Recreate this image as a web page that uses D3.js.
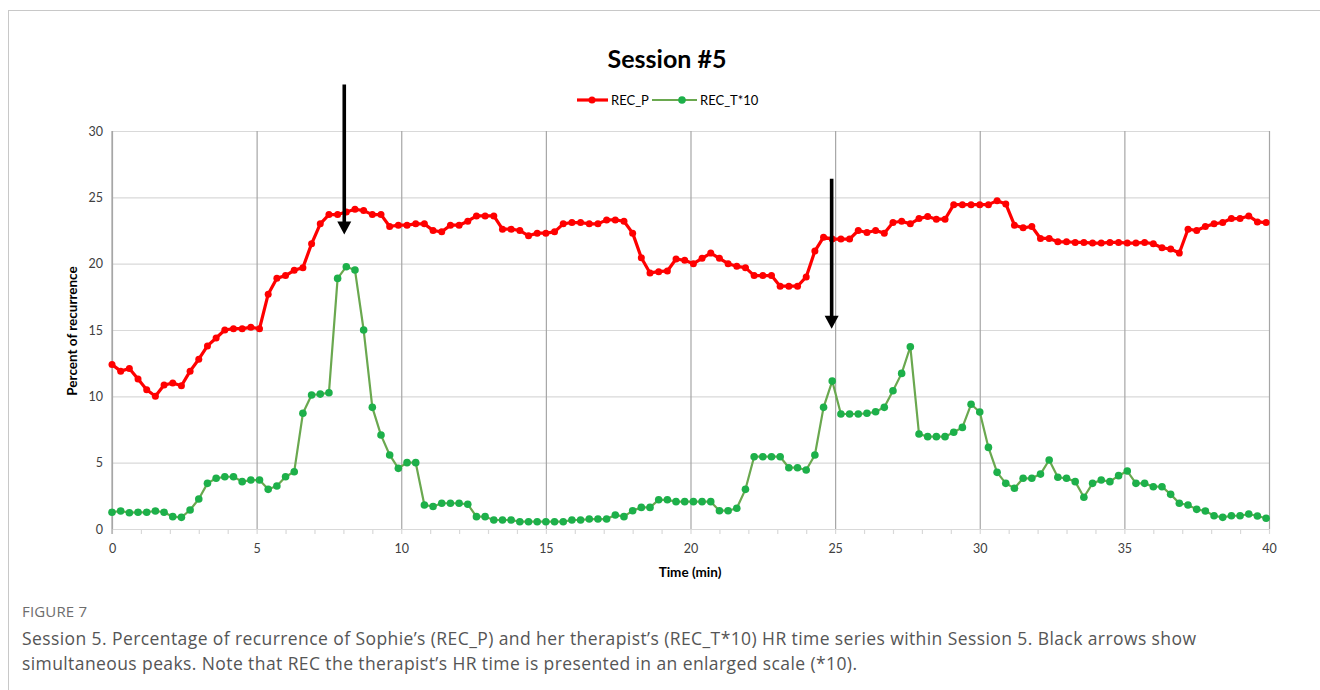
<!DOCTYPE html>
<html>
<head>
<meta charset="utf-8">
<script src="https://cdn.jsdelivr.net/npm/d3@7"></script>
<style>
  body { margin: 0; background: #fff; }
  svg { display: block; }
</style>
</head>
<body>
<svg id="chart" width="1320" height="690"></svg>
<script>
// Sampling interval of the recurrence series (minutes)
const timeStep = 0.3;

// Percent of recurrence, patient (REC_P)
const recP = [
  12.4, 11.9, 12.1, 11.3, 10.5, 10.0, 10.85, 11.0, 10.8, 11.9,
  12.8, 13.8, 14.4, 15.0, 15.1, 15.1, 15.2, 15.1, 17.7, 18.9,
  19.1, 19.5, 19.7, 21.5, 23.0, 23.7, 23.7, 23.9, 24.1, 24.0,
  23.7, 23.7, 22.8, 22.9, 22.9, 23.0, 23.0, 22.5, 22.4, 22.9,
  22.9, 23.2, 23.6, 23.6, 23.6, 22.6, 22.6, 22.5, 22.1, 22.3,
  22.3, 22.4, 23.0, 23.1, 23.1, 23.0, 23.0, 23.3, 23.3, 23.2,
  22.3, 20.45, 19.3, 19.4, 19.45, 20.35, 20.25, 20.0, 20.4, 20.8,
  20.4, 20.0, 19.8, 19.7, 19.1, 19.1, 19.1, 18.3, 18.3, 18.3,
  19.0, 20.95, 22.0, 21.85, 21.85, 21.85, 22.5, 22.35, 22.5, 22.3,
  23.1, 23.2, 23.0, 23.4, 23.55, 23.35, 23.35, 24.45, 24.45, 24.45,
  24.45, 24.45, 24.75, 24.5, 22.9, 22.7, 22.8, 21.9, 21.9, 21.65,
  21.65, 21.6, 21.6, 21.55, 21.55, 21.6, 21.6, 21.55, 21.55, 21.6,
  21.5, 21.2, 21.1, 20.8, 22.6, 22.5, 22.8, 23.0, 23.1, 23.4,
  23.4, 23.6, 23.15, 23.1
];

// Percent of recurrence, therapist, multiplied by 10 (REC_T*10)
const recT10 = [
  1.26, 1.36, 1.23, 1.26, 1.26, 1.36, 1.26, 0.93, 0.88, 1.43,
  2.26, 3.44, 3.82, 3.94, 3.94, 3.57, 3.69, 3.69, 2.99, 3.24,
  3.94, 4.32, 8.72, 10.1, 10.17, 10.27, 18.89, 19.77, 19.52, 15.0,
  9.17, 7.08, 5.58, 4.57, 5.0, 5.0, 1.81, 1.7, 1.94, 1.94,
  1.94, 1.86, 0.93, 0.93, 0.68, 0.68, 0.68, 0.55, 0.55, 0.55,
  0.55, 0.55, 0.55, 0.68, 0.68, 0.75, 0.75, 0.75, 1.06, 0.93,
  1.38, 1.63, 1.63, 2.2, 2.2, 2.06, 2.06, 2.06, 2.06, 2.06,
  1.38, 1.38, 1.56, 2.99, 5.45, 5.45, 5.45, 5.45, 4.62, 4.62,
  4.45, 5.58, 9.17, 11.15, 8.67, 8.67, 8.67, 8.72, 8.84, 9.17,
  10.42, 11.73, 13.74, 7.16, 6.96, 6.96, 6.96, 7.29, 7.66, 9.4,
  8.82, 6.15, 4.27, 3.44, 3.07, 3.82, 3.82, 4.14, 5.2, 3.9,
  3.82, 3.57, 2.39, 3.44, 3.69, 3.57, 4.02, 4.37, 3.44, 3.44,
  3.19, 3.19, 2.61, 1.94, 1.81, 1.48, 1.36, 1.0, 0.88, 1.0,
  1.0, 1.13, 0.98, 0.81
];

const seriesNames = ["REC_P", "REC_T*10"];
const xTicks = [0, 5, 10, 15, 20, 25, 30, 35, 40];
const xMinorTicks = d3.range(0, 41, 1);
const yTicks = [0, 5, 10, 15, 20, 25, 30];

// Arrows marking simultaneous peaks: time (min), top and tip (percent units)
const arrowTime = [8.03, 24.88];
const arrowTop = [33.5, 26.4];
const arrowTip = [22.2, 15.1];

const times = recP.map((_, i) => i * timeStep);

const svg = d3.select("#chart");
const font = "Lato, 'Open Sans', sans-serif";

// Outer frame
svg.append("rect")
  .attr("x", 8.5).attr("y", 10.5)
  .attr("width", 1400).attr("height", 800)
  .attr("fill", "none").attr("stroke", "#c8c8c8").attr("stroke-width", 1);

const plot = { left: 112, right: 1269, top: 131, bottom: 529 };
const x = d3.scaleLinear().domain([0, 40]).range([plot.left, plot.right]);
const y = d3.scaleLinear().domain([0, 30]).range([plot.bottom, plot.top]);

// Horizontal gridlines
const yGrid = svg.append("g")
  .attr("transform", `translate(${plot.left},0)`)
  .call(d3.axisLeft(y).tickValues(yTicks).tickSize(-(plot.right - plot.left)).tickFormat(""));
yGrid.select(".domain").remove();
yGrid.selectAll(".tick line").attr("stroke", "#d9d9d9").attr("stroke-width", 1.2);

// Vertical gridlines every 5 minutes
const xGrid = svg.append("g")
  .attr("transform", `translate(0,${plot.bottom})`)
  .call(d3.axisBottom(x).tickValues(xTicks).tickSize(-(plot.bottom - plot.top)).tickFormat(""));
xGrid.select(".domain").remove();
xGrid.selectAll(".tick line").attr("stroke", "#a6a6a6").attr("stroke-width", 1.2);

// Bottom axis with minor ticks each minute
const xMinor = svg.append("g")
  .attr("transform", `translate(0,${plot.bottom})`)
  .call(d3.axisBottom(x).tickValues(xMinorTicks).tickSize(5).tickSizeOuter(0).tickFormat(""));
xMinor.select(".domain").attr("stroke", "#d9d9d9").attr("stroke-width", 1.2);
xMinor.selectAll(".tick line").attr("stroke", "#d9d9d9").attr("stroke-width", 1.2);

// Left axis line
svg.append("line")
  .attr("x1", x(0)).attr("x2", x(0))
  .attr("y1", y(30)).attr("y2", y(0) + 5)
  .attr("stroke", "#a6a6a6").attr("stroke-width", 1.2);

// Tick labels
const yLab = svg.append("g")
  .attr("transform", `translate(${plot.left},0)`)
  .call(d3.axisLeft(y).tickValues(yTicks).tickSize(0).tickPadding(9));
yLab.select(".domain").remove();
yLab.selectAll("text").attr("font-family", font).attr("font-size", 12.5).attr("fill", "#404040");

const xLab = svg.append("g")
  .attr("transform", `translate(0,${plot.bottom})`)
  .call(d3.axisBottom(x).tickValues(xTicks).tickSize(0).tickPadding(15));
xLab.select(".domain").remove();
xLab.selectAll("text").attr("font-family", font).attr("font-size", 12.5).attr("fill", "#404040");

// Series
const colors = { p: "#ff0000", tLine: "#6aa84f", tDot: "#1db04a" };
const line = d3.line().x((d, i) => x(times[i])).y(d => y(d));

svg.append("path").datum(recT10)
  .attr("d", line).attr("fill", "none")
  .attr("stroke", colors.tLine).attr("stroke-width", 2.2).attr("stroke-linejoin", "round");
svg.append("g").selectAll("circle").data(recT10).join("circle")
  .attr("cx", (d, i) => x(times[i])).attr("cy", d => y(d))
  .attr("r", 3.8).attr("fill", colors.tDot);

svg.append("path").datum(recP)
  .attr("d", line).attr("fill", "none")
  .attr("stroke", colors.p).attr("stroke-width", 3.2).attr("stroke-linejoin", "round");
svg.append("g").selectAll("circle").data(recP).join("circle")
  .attr("cx", (d, i) => x(times[i])).attr("cy", d => y(d))
  .attr("r", 3.5).attr("fill", colors.p);

// Arrows
arrowTime.forEach((t, k) => {
  const ax = x(t);
  const yTop = y(arrowTop[k]);
  const yTip = y(arrowTip[k]);
  const headLen = 13, headHalf = 7;
  svg.append("line")
    .attr("x1", ax).attr("x2", ax)
    .attr("y1", yTop).attr("y2", yTip - headLen + 1)
    .attr("stroke", "#000").attr("stroke-width", 3.6);
  svg.append("path")
    .attr("d", `M${ax - headHalf},${yTip - headLen} L${ax + headHalf},${yTip - headLen} L${ax},${yTip} Z`)
    .attr("fill", "#000");
});

// Title
svg.append("text")
  .attr("x", 667).attr("y", 68)
  .attr("text-anchor", "middle")
  .attr("font-family", font).attr("font-weight", "bold").attr("font-size", 25)
  .attr("fill", "#000")
  .text("Session #5");

// Legend
const legend = [
  { name: seriesNames[0], x0: 577, x1: 608, dot: 592, tx: 611, line: colors.p, fill: colors.p, w: 3.2, r: 3.5 },
  { name: seriesNames[1], x0: 652, x1: 697, dot: 682, tx: 700, line: colors.tLine, fill: colors.tDot, w: 2.2, r: 3.8 }
];
legend.forEach(l => {
  svg.append("line").attr("x1", l.x0).attr("x2", l.x1).attr("y1", 100).attr("y2", 100)
    .attr("stroke", l.line).attr("stroke-width", l.w);
  svg.append("circle").attr("cx", l.dot).attr("cy", 100).attr("r", l.r).attr("fill", l.fill);
  svg.append("text").attr("x", l.tx).attr("y", 104.5)
    .attr("font-family", font).attr("font-size", 13).attr("fill", "#000")
    .text(l.name);
});

// Axis titles
svg.append("text")
  .attr("x", 690).attr("y", 577)
  .attr("text-anchor", "middle")
  .attr("font-family", font).attr("font-weight", "bold").attr("font-size", 13.5)
  .text("Time (min)");
svg.append("text")
  .attr("transform", "translate(77,331) rotate(-90)")
  .attr("text-anchor", "middle")
  .attr("font-family", font).attr("font-weight", "bold").attr("font-size", 13.5)
  .text("Percent of recurrence");

// Caption
const capFont = "'Open Sans', 'Noto Sans', sans-serif";
svg.append("text")
  .attr("x", 22).attr("y", 617)
  .attr("font-family", capFont).attr("font-size", 15).attr("fill", "#6d6d6d")
  .attr("textLength", 65).attr("lengthAdjust", "spacing")
  .text("FIGURE 7");
svg.append("text")
  .attr("x", 22).attr("y", 645)
  .attr("font-family", capFont).attr("font-size", 17.5).attr("fill", "#555")
  .attr("textLength", 1174).attr("lengthAdjust", "spacing")
  .text("Session 5. Percentage of recurrence of Sophie’s (REC_P) and her therapist’s (REC_T*10) HR time series within Session 5. Black arrows show");
svg.append("text")
  .attr("x", 22).attr("y", 670)
  .attr("font-family", capFont).attr("font-size", 17.5).attr("fill", "#555")
  .attr("textLength", 835).attr("lengthAdjust", "spacing")
  .text("simultaneous peaks. Note that REC the therapist’s HR time is presented in an enlarged scale (*10).");
</script>
</body>
</html>
